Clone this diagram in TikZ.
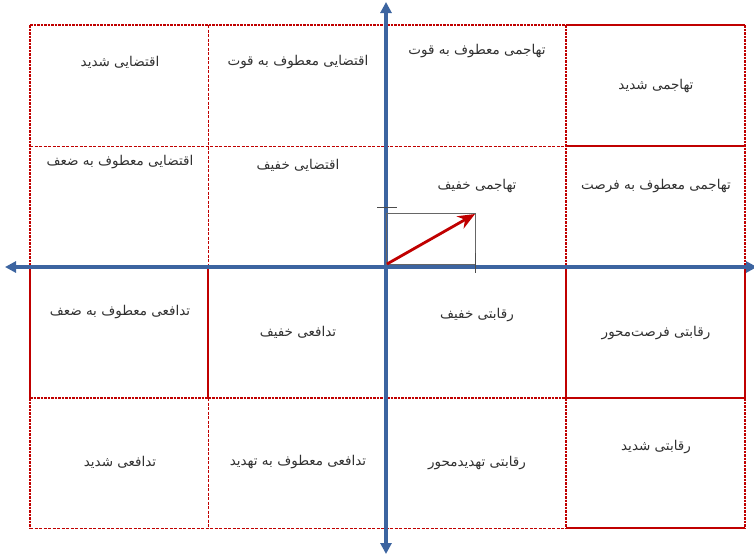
\documentclass[tikz,border=0pt]{standalone}
\usepackage{fontspec}
\usepackage{xcolor}
\usepackage{tikz}
\usetikzlibrary{arrows.meta,positioning,calc}
\TeXXeTstate=1
\newfontfamily\arabicfont[Script=Arabic]{DejaVu Sans}
\definecolor{axisblue}{HTML}{3C64A0}
\definecolor{gridred}{HTML}{C00000}
\definecolor{txtgray}{HTML}{303030}
\newcommand{\fa}[1]{{\arabicfont\beginR #1\endR}}

\tikzset{
  cell/.style={font=\fontsize{13.5}{16}\selectfont, text=txtgray, inner sep=1pt},
  heavydot/.style={gridred, line width=1.8pt, dash pattern=on 2.5pt off 1pt},
  lightdash/.style={gridred, line width=1pt, dash pattern=on 3pt off 1.5pt},
  heavyline/.style={gridred, line width=2pt},
  lightline/.style={gridred, line width=1.1pt},
  axis/.style={axisblue, line width=3.2pt, {Triangle[length=11pt,width=11pt]}-{Triangle[length=11pt,width=11pt]}},
  vec/.style={gridred, line width=2.8pt, -{Stealth[length=17pt,width=14pt]}},
  tick/.style={black!70, line width=1pt}
}

\begin{document}
\begin{tikzpicture}[x=1pt,y=-1pt]
\useasboundingbox (0,0) rectangle (754,558);

% grid points
\foreach \i/\x in {0/30,1/208,2/386,3/566,4/745}
  \foreach \j/\y in {0/25,1/146,2/267,3/398,4/528}
    \coordinate (g\i\j) at (\x,\y);

% vertical lines
\foreach \i/\d/\l in {0/heavydot/heavyline,1/lightdash/lightline,3/heavydot/heavyline,4/heavydot/heavyline}{
  \draw[\d] (g\i0) -- (g\i2);
  \draw[\l] (g\i2) -- (g\i3);
  \draw[\d] (g\i3) -- (g\i4);
}

% horizontal lines
\foreach \j/\d/\l in {0/heavydot/heavyline,1/lightdash/lightline,3/heavydot/heavyline,4/lightdash/lightline}{
  \draw[\d] (g0\j) -- (g3\j);
  \draw[\l] (g3\j) -- (g4\j);
}

% row 1
\node[cell] (eqtShadid) at (120,62) {\fa{اقتضایی شدید}};
\node[cell] (eqtQovvat) at (298,62) {\fa{اقتضایی معطوف به قوت}};
\node[cell] (tahQovvat) at (477,51) {\fa{تهاجمی معطوف به قوت}};
\node[cell] (tahShadid) at (656,86) {\fa{تهاجمی شدید}};

% row 2
\node[cell] (eqtZaf) at (120,162) {\fa{اقتضایی معطوف به ضعف}};
\node[cell] (eqtKhafif) at (298,165) {\fa{اقتضایی خفیف}};
\node[cell] (tahKhafif) at (477,186) {\fa{تهاجمی خفیف}};
\node[cell] (tahForsat) at (656,186) {\fa{تهاجمی معطوف به فرصت}};

% row 3
\node[cell] (tadZaf) at (120,312) {\fa{تدافعی معطوف به ضعف}};
\node[cell] (tadKhafif) at (298,332) {\fa{تدافعی خفیف}};
\node[cell] (raqKhafif) at (477,315) {\fa{رقابتی خفیف}};
\node[cell] (raqForsat) at (656,333) {\fa{رقابتی فرصت‌محور}};

% row 4
\node[cell] (tadShadid) at (120,462) {\fa{تدافعی شدید}};
\node[cell] (tadTahdid) at (298,462) {\fa{تدافعی معطوف به تهدید}};
\node[cell] (raqTahdid) at (477,463) {\fa{رقابتی تهدیدمحور}};
\node[cell] (raqShadid) at (656,447) {\fa{رقابتی شدید}};

% axes
\coordinate (west) at (5,267);
\coordinate (east) at (757,267);
\coordinate (north) at (386,2);
\coordinate (south) at (386,554);
\draw[axis] (west) -- (east);
\draw[axis] (north) -- (south);

% small vector box
\coordinate (o) at (387,264);
\coordinate (p) at (475,214);
\draw[black!60, line width=1pt] (386,213) rectangle (p |- o);
\draw[tick] (377,207) -- (397,207);
\draw[tick] (475,253) -- (475,273);
\draw[vec] (o) -- (p);
\end{tikzpicture}
\end{document}
